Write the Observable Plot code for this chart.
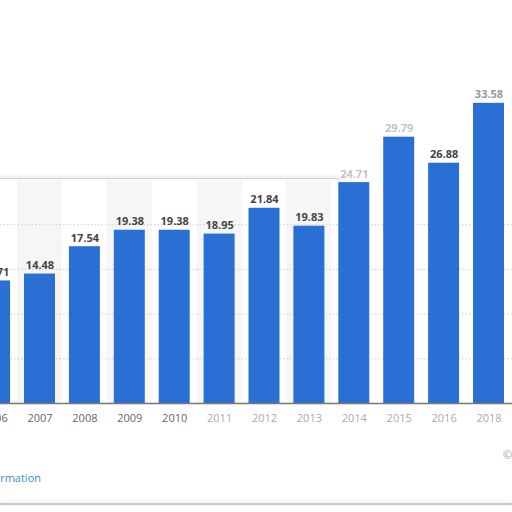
<!DOCTYPE html>
<html><head><meta charset="utf-8">
<script src="https://cdn.jsdelivr.net/npm/d3@7"></script>
<script src="https://cdn.jsdelivr.net/npm/@observablehq/plot@0.6"></script>
<style>
html,body{margin:0;padding:0;background:#fff;overflow:hidden;}
#wrap{position:relative;width:512px;height:512px;font-family:"Open Sans",sans-serif;}
#card{position:absolute;left:-12px;top:178px;width:352px;height:30px;border-top:1.5px solid #d0d0d0;border-right:1px solid #e4e4e4;border-radius:0 6px 0 0;box-shadow:0 -2px 4px rgba(0,0,0,0.08);clip-path:inset(-6px -6px 0 -6px);}
#bottomline{position:absolute;left:0;top:503px;width:512px;height:2px;background:#c8c8c8;box-shadow:0 -2px 4px rgba(0,0,0,0.1);}
#chart{position:absolute;left:0;top:0;}
#info{position:absolute;right:471px;top:470px;font-size:11px;color:#3d8fcc;white-space:nowrap;}
#copy{position:absolute;left:503px;top:447px;font-size:11px;color:#999;}
</style></head>
<body><div id="wrap"><div id="card"></div><div id="bottomline"></div><div id="chart"></div>
<div id="info">Additional Information</div><div id="copy">©</div></div>
<script>
const years = ["2006","2007","2008","2009","2010","2011","2012","2013","2014","2015","2016","2018"];
const values = [13.71,14.48,17.54,19.38,19.38,18.95,21.84,19.83,24.71,29.79,26.88,33.58];
const labels = ["13.71","14.48","17.54","19.38","19.38","18.95","21.84","19.83","24.71","29.79","26.88","33.58"];
const stripeYears = ["2007","2009","2011","2013"];
const gridValues = [5,10,15,20];

const data = years.map((y,i)=>({year:y, value:values[i], label:labels[i]}));
const faded = new Set(["2014","2015"]);

const plot = Plot.plot({
  width:512, height:512,
  marginLeft:0, marginRight:0, marginTop:0, marginBottom:0,
  style:{background:"transparent", fontFamily:"Open Sans, sans-serif", overflow:"visible"},
  x:{domain:years, range:[-34.8,517.9], padding:0.31, round:false, axis:null},
  y:{domain:[0,45.08], range:[403,0], axis:null},
  marks:[
    Plot.barY(stripeYears, {x:d=>d, y1:0, y2:25, fill:"#f6f6f6", insetLeft:-7, insetRight:-7}),
    Plot.ruleY(gridValues, {stroke:"#cfcfcf", strokeDasharray:"1.5,2"}),
    Plot.barY(data, {x:"year", y:"value", fill:"#2a6fd3"}),
    Plot.ruleY([0], {stroke:"#777", strokeWidth:1.5}),
    Plot.text(data, {x:"year", y:"value", text:"label", lineAnchor:"bottom", dy:-5,
      fontWeight:"bold", fontSize:11, fill:d=>faded.has(d.year)?"#c4c4c4":(d.year==="2018"?"#999":"#444")}),
    Plot.text(data, {x:"year", y:0, text:"year", dy:15, fontSize:11,
      fill:d=>(+d.year>=2011)?"#aaa":"#666"})
  ]
});
document.getElementById("chart").appendChild(plot);
</script></body></html>
